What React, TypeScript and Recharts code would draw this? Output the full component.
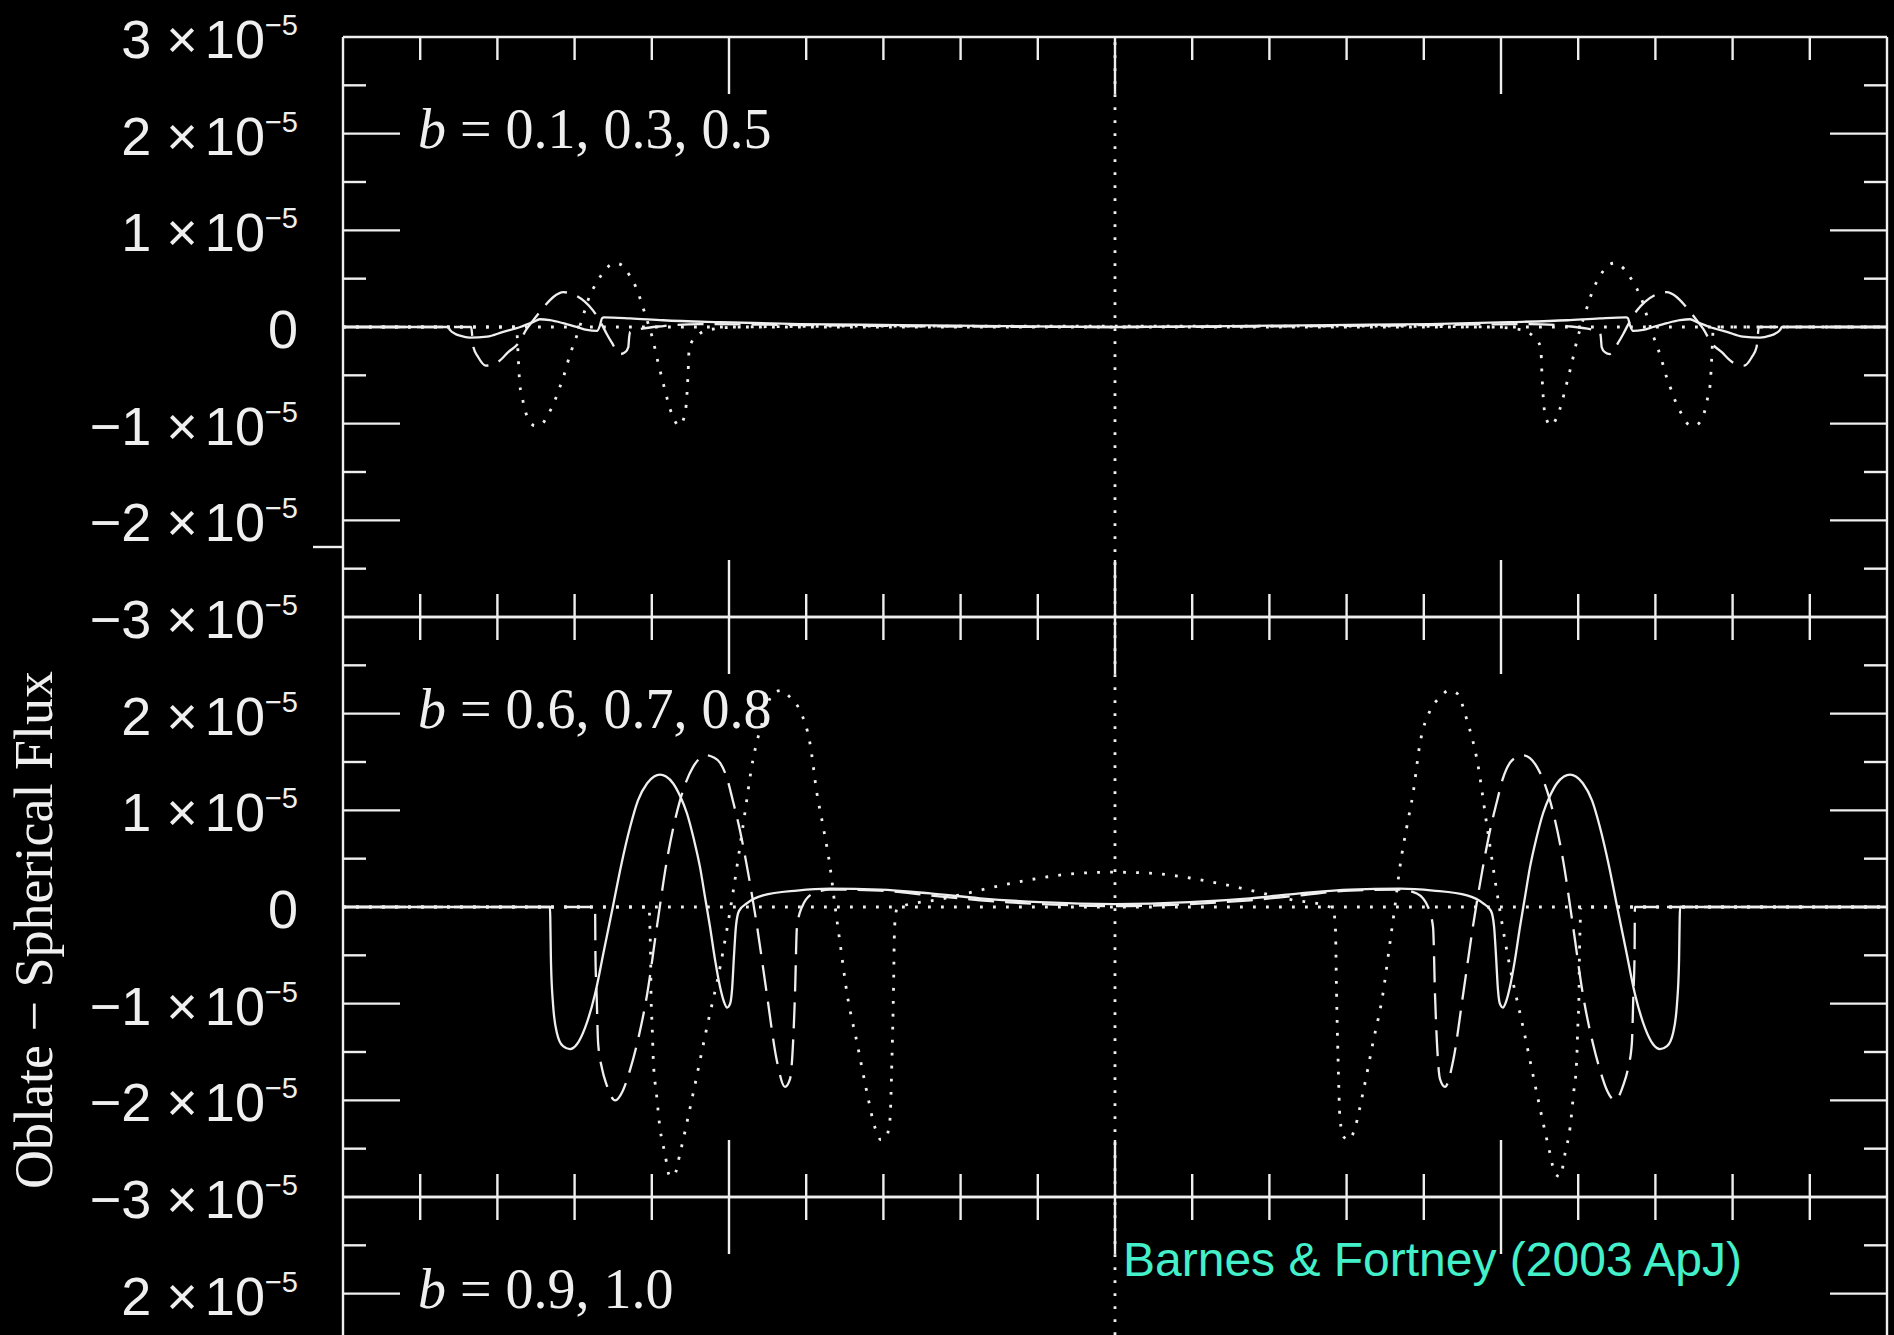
import React from 'react';
import { ComposedChart, Line, XAxis, YAxis, ReferenceLine } from 'recharts';

type Row = [number, number];

// x: hours from mid-transit, y: oblate - spherical flux in units of 1e-5

// top panel
const b01: Row[] = [
  [-2, 0], [-1.728, 0], [-1.723, -0.03], [-1.71, -0.07], [-1.697, -0.09], [-1.671, -0.11], [-1.627, -0.1],
  [-1.585, -0.05], [-1.541, 0], [-1.508, 0.05], [-1.49, 0.08], [-1.464, 0.07], [-1.43, 0.04], [-1.394, 0],
  [-1.368, -0.03], [-1.342, -0.04], [-1.334, 0.02], [-1.329, 0.09], [-1.324, 0.1], [-1.256, 0.09],
  [-1.171, 0.07], [-1.023, 0.05], [-0.816, 0.03], [-0.557, 0.02], [-0.298, 0.01], [0, 0],
  [0.298, 0.01], [0.557, 0.02], [0.816, 0.03], [1.023, 0.05], [1.171, 0.07], [1.256, 0.09], [1.324, 0.1],
  [1.329, 0.09], [1.334, 0.02], [1.342, -0.04], [1.368, -0.03], [1.394, 0], [1.43, 0.04], [1.464, 0.07],
  [1.49, 0.08], [1.508, 0.05], [1.541, 0], [1.585, -0.05], [1.627, -0.1], [1.671, -0.11], [1.697, -0.09],
  [1.71, -0.07], [1.723, -0.03], [1.728, 0], [2, 0],
];

const b03: Row[] = [
  [-2, 0], [-1.668, 0], [-1.665, -0.1], [-1.662, -0.21], [-1.65, -0.31], [-1.63, -0.4], [-1.598, -0.36],
  [-1.572, -0.26], [-1.546, -0.17], [-1.524, -0.02], [-1.507, 0.07], [-1.477, 0.22], [-1.455, 0.31],
  [-1.429, 0.36], [-1.399, 0.33], [-1.373, 0.26], [-1.352, 0.17], [-1.33, 0.03], [-1.317, -0.07],
  [-1.304, -0.16], [-1.282, -0.28], [-1.269, -0.26], [-1.261, -0.21], [-1.2585, -0.1], [-1.256, -0.05],
  [-1.239, -0.03], [-1.17, 0.01], [-1.075, 0.03], [-0.816, 0.02], [-0.557, 0.01], [0, 0],
  [0.557, 0.01], [0.816, 0.02], [1.075, 0.03], [1.17, 0.01], [1.239, -0.03], [1.256, -0.05], [1.2585, -0.1],
  [1.261, -0.21], [1.269, -0.26], [1.282, -0.28], [1.304, -0.16], [1.317, -0.07], [1.33, 0.03], [1.352, 0.17],
  [1.373, 0.26], [1.399, 0.33], [1.429, 0.36], [1.455, 0.31], [1.477, 0.22], [1.507, 0.07], [1.524, -0.02],
  [1.546, -0.17], [1.572, -0.26], [1.598, -0.36], [1.63, -0.4], [1.65, -0.31], [1.662, -0.21], [1.665, -0.1],
  [1.668, 0], [2, 0],
];

const b05: Row[] = [
  [-2, 0], [-1.55, 0], [-1.548, -0.15], [-1.546, -0.31], [-1.542, -0.59], [-1.536, -0.72], [-1.529, -0.85],
  [-1.516, -0.98], [-1.503, -1.02], [-1.487, -1.01], [-1.468, -0.9], [-1.453, -0.78], [-1.44, -0.64],
  [-1.429, -0.52], [-1.419, -0.38], [-1.408, -0.24], [-1.397, -0.12], [-1.376, 0.14], [-1.365, 0.28],
  [-1.35, 0.41], [-1.332, 0.53], [-1.308, 0.64], [-1.293, 0.66], [-1.278, 0.64], [-1.257, 0.53],
  [-1.241, 0.41], [-1.229, 0.28], [-1.218, 0.14], [-1.198, -0.12], [-1.183, -0.38], [-1.166, -0.65],
  [-1.157, -0.79], [-1.147, -0.91], [-1.129, -1.02], [-1.114, -0.9], [-1.11, -0.76], [-1.106, -0.48],
  [-1.103, -0.21], [-1.084, -0.1], [-1.054, -0.03], [-0.972, 0], [-0.557, 0.01], [0, 0.01],
  [0.557, 0.01], [0.972, 0], [1.054, -0.03], [1.084, -0.1], [1.103, -0.21], [1.106, -0.48], [1.11, -0.76],
  [1.114, -0.9], [1.129, -1.02], [1.147, -0.91], [1.157, -0.79], [1.166, -0.65], [1.183, -0.38],
  [1.198, -0.12], [1.218, 0.14], [1.229, 0.28], [1.241, 0.41], [1.257, 0.53], [1.278, 0.64], [1.293, 0.66],
  [1.308, 0.64], [1.332, 0.53], [1.35, 0.41], [1.365, 0.28], [1.376, 0.14], [1.397, -0.12], [1.408, -0.24],
  [1.419, -0.38], [1.429, -0.52], [1.44, -0.64], [1.453, -0.78], [1.468, -0.9], [1.487, -1.01],
  [1.503, -1.02], [1.516, -0.98], [1.529, -0.85], [1.536, -0.72], [1.542, -0.59], [1.546, -0.31],
  [1.548, -0.15], [1.55, 0], [2, 0],
];

// middle panel
const b06: Row[] = [
  [-2, 0], [-1.464, 0], [-1.461, -0.6], [-1.456, -1.0], [-1.446, -1.3], [-1.43, -1.44], [-1.412, -1.47],
  [-1.394, -1.42], [-1.373, -1.25], [-1.347, -0.9], [-1.324, -0.45], [-1.301, 0], [-1.28, 0.42],
  [-1.256, 0.83], [-1.236, 1.1], [-1.212, 1.28], [-1.194, 1.35], [-1.179, 1.37], [-1.163, 1.35],
  [-1.145, 1.28], [-1.127, 1.15], [-1.109, 0.97], [-1.091, 0.7], [-1.075, 0.41], [-1.062, 0.1],
  [-1.049, -0.21], [-1.036, -0.55], [-1.023, -0.83], [-1.013, -0.98], [-1.005, -1.04], [-0.997, -1.0],
  [-0.992, -0.85], [-0.987, -0.5], [-0.982, -0.2], [-0.974, -0.04], [-0.953, 0.04], [-0.912, 0.12],
  [-0.824, 0.17], [-0.738, 0.19], [-0.609, 0.18], [-0.479, 0.14], [-0.35, 0.09], [-0.194, 0.05], [0, 0.03],
  [0.194, 0.05], [0.35, 0.09], [0.479, 0.14], [0.609, 0.18], [0.738, 0.19], [0.824, 0.17], [0.912, 0.12],
  [0.953, 0.04], [0.974, -0.04], [0.982, -0.2], [0.987, -0.5], [0.992, -0.85], [0.997, -1.0], [1.005, -1.04],
  [1.013, -0.98], [1.023, -0.83], [1.036, -0.55], [1.049, -0.21], [1.062, 0.1], [1.075, 0.41], [1.091, 0.7],
  [1.109, 0.97], [1.127, 1.15], [1.145, 1.28], [1.163, 1.35], [1.179, 1.37], [1.194, 1.35], [1.212, 1.28],
  [1.236, 1.1], [1.256, 0.83], [1.28, 0.42], [1.301, 0], [1.324, -0.45], [1.347, -0.9], [1.373, -1.25],
  [1.394, -1.42], [1.412, -1.47], [1.43, -1.44], [1.446, -1.3], [1.456, -1.0], [1.461, -0.6], [1.464, 0],
  [2, 0],
];

const b07: Row[] = [
  [-2, 0], [-1.347, 0], [-1.346, -0.5], [-1.343, -0.9], [-1.339, -1.41], [-1.329, -1.67], [-1.317, -1.84],
  [-1.295, -2.0], [-1.275, -1.9], [-1.256, -1.68], [-1.238, -1.41], [-1.212, -0.9], [-1.187, -0.21],
  [-1.161, 0.48], [-1.127, 1.1], [-1.093, 1.45], [-1.075, 1.54], [-1.057, 1.57], [-1.041, 1.55],
  [-1.023, 1.49], [-1.005, 1.33], [-0.99, 1.1], [-0.972, 0.8], [-0.953, 0.41], [-0.927, -0.21],
  [-0.902, -0.9], [-0.876, -1.59], [-0.855, -1.86], [-0.842, -1.78], [-0.834, -1.4], [-0.829, -0.9],
  [-0.824, -0.21], [-0.811, 0], [-0.782, 0.14], [-0.738, 0.18], [-0.609, 0.17], [-0.479, 0.12],
  [-0.35, 0.07], [-0.194, 0.03], [0, 0.01],
  [0.194, 0.03], [0.35, 0.07], [0.479, 0.12], [0.609, 0.17], [0.738, 0.18], [0.782, 0.14], [0.811, 0],
  [0.824, -0.21], [0.829, -0.9], [0.834, -1.4], [0.842, -1.78], [0.855, -1.86], [0.876, -1.59],
  [0.902, -0.9], [0.927, -0.21], [0.953, 0.41], [0.972, 0.8], [0.99, 1.1], [1.005, 1.33], [1.023, 1.49],
  [1.041, 1.55], [1.057, 1.57], [1.075, 1.54], [1.093, 1.45], [1.127, 1.1], [1.161, 0.48], [1.187, -0.21],
  [1.212, -0.9], [1.238, -1.41], [1.256, -1.68], [1.275, -1.9], [1.295, -2.0], [1.317, -1.84],
  [1.329, -1.67], [1.339, -1.41], [1.343, -0.9], [1.346, -0.5], [1.347, 0], [2, 0],
];

const b08: Row[] = [
  [-2, 0], [-1.207, 0], [-1.205, -0.2], [-1.203, -0.55], [-1.202, -0.9], [-1.199, -1.24], [-1.196, -1.59],
  [-1.188, -1.93], [-1.179, -2.28], [-1.166, -2.55], [-1.153, -2.79], [-1.14, -2.76], [-1.127, -2.55],
  [-1.093, -1.93], [-1.057, -1.24], [-1.023, -0.62], [-0.99, 0.14], [-0.964, 0.83], [-0.938, 1.52],
  [-0.912, 1.93], [-0.886, 2.21], [-0.865, 2.24], [-0.842, 2.17], [-0.816, 2.03], [-0.79, 1.69],
  [-0.772, 1.17], [-0.756, 0.83], [-0.738, 0.41], [-0.725, 0], [-0.712, -0.38], [-0.694, -0.9],
  [-0.668, -1.41], [-0.642, -1.93], [-0.622, -2.28], [-0.606, -2.41], [-0.593, -2.38], [-0.583, -2.2],
  [-0.578, -1.59], [-0.574, -0.9], [-0.571, -0.21], [-0.565, -0.02], [-0.557, 0], [-0.453, 0.08],
  [-0.386, 0.14], [-0.298, 0.22], [-0.194, 0.3], [-0.091, 0.35], [0, 0.36],
  [0.091, 0.35], [0.194, 0.3], [0.298, 0.22], [0.386, 0.14], [0.453, 0.08], [0.557, 0], [0.565, -0.02],
  [0.571, -0.21], [0.574, -0.9], [0.578, -1.59], [0.583, -2.2], [0.593, -2.38], [0.606, -2.41],
  [0.622, -2.28], [0.642, -1.93], [0.668, -1.41], [0.694, -0.9], [0.712, -0.38], [0.725, 0], [0.738, 0.41],
  [0.756, 0.83], [0.772, 1.17], [0.79, 1.69], [0.816, 2.03], [0.842, 2.17], [0.865, 2.24], [0.886, 2.21],
  [0.912, 1.93], [0.938, 1.52], [0.964, 0.83], [0.99, 0.14], [1.023, -0.62], [1.057, -1.24], [1.093, -1.93],
  [1.127, -2.55], [1.14, -2.76], [1.153, -2.79], [1.166, -2.55], [1.179, -2.28], [1.188, -1.93],
  [1.196, -1.59], [1.199, -1.24], [1.202, -0.9], [1.203, -0.55], [1.205, -0.2], [1.207, 0], [2, 0],
];

const panelLabels = ['0.1, 0.3, 0.5', '0.6, 0.7, 0.8', '0.9, 1.0'];

const X_MINOR = [-1.8, -1.6, -1.4, -1.2, -0.8, -0.6, -0.4, -0.2, 0.2, 0.4, 0.6, 0.8, 1.2, 1.4, 1.6, 1.8];
const X_MAJOR = [-1, 0, 1];
const Y_HALF = [2.5, 1.5, 0.5, -0.5, -1.5, -2.5];
const Y_ALL = [3, 2, 1, 0, -1, -2, -3];
const Y_LABELS_TOP = [3, 2, 1, 0, -1, -2, -3];
const Y_LABELS_MID = [2, 1, 0, -1, -2, -3];
const Y_LABELS_LOW = [2];

const W = 1894;
const H = 1335;
const PLOT_H = 580;
const PAD = 40;
const PANEL_TOPS = [36.7, 616.7, 1196.7];
const INK = '#efefef';
const LW = 2.4;
const SANS = '"Liberation Sans", Arial, sans-serif';
const SERIF = '"Liberation Serif", "Times New Roman", serif';

const DASHED = '26 11';
const DOTTED = '2.8 10.2';

const toPoints = (rows: Row[]) => rows.map(([t, v]) => ({ t, v }));

const X_TICKS = [...X_MINOR, ...X_MAJOR].sort((a, b) => a - b);
const Y_TICKS = [...Y_HALF, ...Y_ALL].sort((a, b) => a - b);

const tickLen = (major: boolean) => (major ? 57 : 23);

function FluxLabel({ y, value }: { y: number; value: number }) {
  const common = { x: 298, y: y + 21, textAnchor: 'end' as const, fill: INK, fontSize: 54, fontFamily: SANS };
  if (value === 0) return <text {...common}>0</text>;
  return (
    <text {...common}>
      {`${value < 0 ? '\u2212' : ''}${Math.abs(value)} \u00d7`}
      <tspan dx={7}>10</tspan>
      <tspan dy={-23} fontSize={29}>{'\u22125'}</tspan>
    </text>
  );
}

const leftTick = (labels: number[]) => (props: any) => {
  const { x, y, payload } = props;
  const v = payload.value;
  const edge = Math.abs(v) === 3;
  const len = tickLen(Number.isInteger(v));
  return (
    <g>
      {!edge && <line x1={x} x2={x + len} y1={y} y2={y} stroke={INK} strokeWidth={LW} />}
      {labels.includes(v) && <FluxLabel y={y} value={v} />}
    </g>
  );
};

const rightTick = (props: any) => {
  const { x, y, payload } = props;
  const v = payload.value;
  if (Math.abs(v) === 3) return <g />;
  const len = tickLen(Number.isInteger(v));
  return <line x1={x} x2={x - len} y1={y} y2={y} stroke={INK} strokeWidth={LW} />;
};

const xTick = (dir: 1 | -1) => (props: any) => {
  const { x, y, payload } = props;
  const len = tickLen(X_MAJOR.includes(payload.value));
  return <line x1={x} x2={x} y1={y} y2={y + dir * len} stroke={INK} strokeWidth={LW} />;
};

type Series = { key: string; rows: Row[]; dash?: string };

function Panel({ top, labels, series }: { top: number; labels: number[]; series: Series[] }) {
  const frame = { stroke: INK, strokeWidth: LW };
  return (
    <div style={{ position: 'absolute', left: 0, top: top - PAD }}>
      <ComposedChart width={W} height={PLOT_H + 2 * PAD} margin={{ top: PAD, right: 7, bottom: PAD, left: 0 }}>
        <XAxis
          xAxisId="bottom"
          dataKey="t"
          type="number"
          domain={[-2, 2]}
          allowDataOverflow
          orientation="bottom"
          mirror
          ticks={X_TICKS}
          interval={0}
          tickSize={0}
          tickMargin={0}
          tickLine={false}
          tick={xTick(-1)}
          axisLine={frame}
        />
        <XAxis
          xAxisId="top"
          dataKey="t"
          type="number"
          domain={[-2, 2]}
          allowDataOverflow
          orientation="top"
          mirror
          ticks={X_TICKS}
          interval={0}
          tickSize={0}
          tickMargin={0}
          tickLine={false}
          tick={xTick(1)}
          axisLine={frame}
        />
        <YAxis
          yAxisId="left"
          type="number"
          domain={[-3, 3]}
          allowDataOverflow
          width={343}
          ticks={Y_TICKS}
          interval={0}
          tickSize={0}
          tickMargin={0}
          tickLine={false}
          tick={leftTick(labels)}
          axisLine={frame}
        />
        <YAxis
          yAxisId="right"
          type="number"
          domain={[-3, 3]}
          allowDataOverflow
          orientation="right"
          mirror
          ticks={Y_TICKS}
          interval={0}
          tickSize={0}
          tickMargin={0}
          tickLine={false}
          tick={rightTick}
          axisLine={frame}
        />
        <ReferenceLine xAxisId="bottom" yAxisId="left" y={0} stroke={INK} strokeWidth={2.8} strokeDasharray={DOTTED} />
        <ReferenceLine xAxisId="bottom" yAxisId="left" x={0} stroke={INK} strokeWidth={2.8} strokeDasharray={DOTTED} />
        {series.map((s) => (
          <Line
            key={s.key}
            data={toPoints(s.rows)}
            dataKey="v"
            xAxisId="bottom"
            yAxisId="left"
            type="monotone"
            dot={false}
            activeDot={false}
            stroke={INK}
            strokeWidth={s.dash === DOTTED ? 2.8 : 2.3}
            strokeDasharray={s.dash}
            isAnimationActive={false}
          />
        ))}
      </ComposedChart>
    </div>
  );
}

export default function App() {
  const unit = PLOT_H / 6;
  return (
    <div style={{ position: 'absolute', left: 0, top: 0, width: W, height: H, background: '#000', overflow: 'hidden' }}>
      <Panel
        top={PANEL_TOPS[0]}
        labels={Y_LABELS_TOP}
        series={[
          { key: 'b05', rows: b05, dash: DOTTED },
          { key: 'b03', rows: b03, dash: DASHED },
          { key: 'b01', rows: b01 },
        ]}
      />
      <Panel
        top={PANEL_TOPS[1]}
        labels={Y_LABELS_MID}
        series={[
          { key: 'b08', rows: b08, dash: DOTTED },
          { key: 'b07', rows: b07, dash: DASHED },
          { key: 'b06', rows: b06 },
        ]}
      />
      <Panel top={PANEL_TOPS[2]} labels={Y_LABELS_LOW} series={[]} />
      <svg width={W} height={H} style={{ position: 'absolute', left: 0, top: 0, pointerEvents: 'none' }}>
        <text
          transform="translate(52 930) rotate(-90)"
          textAnchor="middle"
          fontFamily={SERIF}
          fontSize={54}
          fill={INK}
        >
          Oblate − Spherical Flux
        </text>
        {panelLabels.map((label, i) => (
          <text key={label} x={418} y={PANEL_TOPS[i] + unit + 15} fontFamily={SERIF} fontSize={56} fill={INK}>
            <tspan fontStyle="italic">b</tspan>
            {` = ${label}`}
          </text>
        ))}
        <line x1={313} x2={343} y1={547} y2={547} stroke={INK} strokeWidth={LW} />
        <text x={1123} y={1276} fontFamily={SANS} fontSize={48} fill="#44f0c9">
          Barnes &amp; Fortney (2003 ApJ)
        </text>
      </svg>
    </div>
  );
}
